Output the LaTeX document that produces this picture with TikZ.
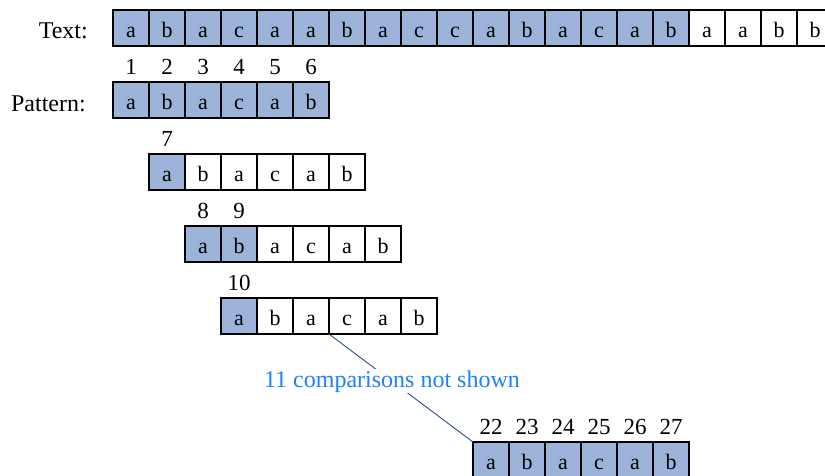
\documentclass[tikz,border=0pt]{standalone}
\usepackage{fontspec}
\setmainfont{Liberation Serif}
\definecolor{cellfill}{RGB}{155,179,216}
\definecolor{labelblue}{RGB}{30,130,255}
\definecolor{linecol}{RGB}{20,60,130}
\begin{document}
\begin{tikzpicture}[x=1pt,y=-1pt,
  cell/.style={draw=black, line width=1.2pt, minimum size=36pt, inner sep=0pt, outer sep=0pt,
    anchor=north west, font=\fontsize{22}{26}\selectfont, text height=19.4pt, text depth=0pt},
  hit/.style={cell, fill=cellfill},
  num/.style={inner sep=0pt, anchor=base, font=\fontsize{23}{27}\selectfont},
  rowlabel/.style={anchor=base east, inner sep=0pt, font=\fontsize{24}{28}\selectfont}]
\clip (0,0) rectangle (825,475);
\fill[white] (0,0) rectangle (825,475);
% Text row
\foreach \ch [count=\i] in {a,b,a,c,a,a,b,a,c,c,a,b,a,c,a,b,a,a,b,b}{
  \ifnum\i<17
    \node[hit] (t\i) at ({113+36*(\i-1)},10) {\ch};
  \else
    \node[cell] (t\i) at ({113+36*(\i-1)},10) {\ch};
  \fi
}
\node[rowlabel] (textlbl) at (88,38) {Text:};
\node[rowlabel] (patlbl) at (86,111) {Pattern:};
% Pattern rows: shift, top y, number of hits, first number
\foreach \sh/\top/\nh/\fn/\nm in {0/82/6/1/a, 1/154/1/7/b, 2/226/2/8/c, 3/298/1/10/d, 10/442/6/22/e}{
  \foreach \ch [count=\j] in {a,b,a,c,a,b}{
    \ifnum\j>\nh
      \node[cell] (\nm\j) at ({113+36*(\sh+\j-1)},\top) {\ch};
    \else
      \node[hit] (\nm\j) at ({113+36*(\sh+\j-1)},\top) {\ch};
      \pgfmathtruncatemacro{\numval}{\fn+\j-1}
      \node[num] (n\nm\j) at ({131+36*(\sh+\j-1)},{\top-8}) {\numval};
    \fi
  }
}
\draw[linecol, line width=0.8pt] (d4.south west) -- (e1.north west)
  node[pos=0.4375, fill=white, text=labelblue, inner sep=1pt,
       font=\fontsize{24}{28}\selectfont] (skip) {11 comparisons not shown};
\end{tikzpicture}
\end{document}
